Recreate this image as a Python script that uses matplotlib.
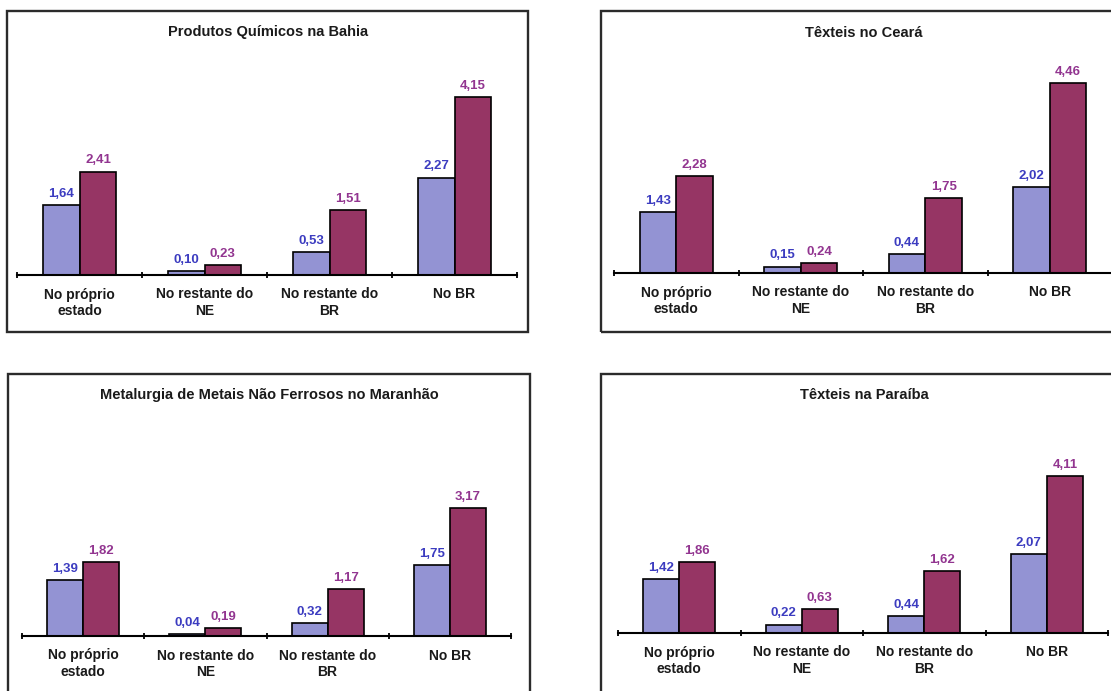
import matplotlib
matplotlib.use("Agg")
import matplotlib.pyplot as plt
from matplotlib.patches import Rectangle

plt.rcParams['font.family'] = ['Liberation Sans', 'DejaVu Sans']

categories = ["No próprio\nestado", "No restante do\nNE", "No restante do\nBR", "No BR"]

titles = [
    "Produtos Químicos na Bahia",
    "Têxteis no Ceará",
    "Metalurgia de Metais Não Ferrosos no Maranhão",
    "Têxteis na Paraíba",
]

series_a_bahia = [1.64, 0.10, 0.53, 2.27]
series_b_bahia = [2.41, 0.23, 1.51, 4.15]
series_a_ceara = [1.43, 0.15, 0.44, 2.02]
series_b_ceara = [2.28, 0.24, 1.75, 4.46]
series_a_maranhao = [1.39, 0.04, 0.32, 1.75]
series_b_maranhao = [1.82, 0.19, 1.17, 3.17]
series_a_paraiba = [1.42, 0.22, 0.44, 2.07]
series_b_paraiba = [1.86, 0.63, 1.62, 4.11]

W, H = 1111, 691
fig = plt.figure(figsize=(W / 100, H / 100), dpi=100)
fig.patch.set_facecolor('white')

# layout in pixels: (box l, t, r, b), (axes l, r, bottom, top), ymax, title (x, y)
panels = [
    ((7, 11, 528, 332), (17, 517, 275, 75), 4.66, (268, 32), series_a_bahia, series_b_bahia),
    ((601, 11, 1127, 332), (614, 1112, 273, 73), 4.69, (864, 33), series_a_ceara, series_b_ceara),
    ((8, 374, 530, 700), (22, 511, 636, 436), 4.95, (269, 395), series_a_maranhao, series_b_maranhao),
    ((601, 374, 1127, 700), (618, 1108, 633, 433), 5.24, (864, 395), series_a_paraiba, series_b_paraiba),
]

col_a = '#9393D3'
col_b = '#963564'
lab_a = '#3C3CC0'
lab_b = '#923590'
bw = 0.295

def fmt(v):
    return f"{v:.2f}".replace('.', ',')

for (box, ax_px, ymax, tpos, sa, sb), title in zip(panels, titles):
    bl, bt, br, bb = box
    fig.patches.append(Rectangle((bl / W, 1 - bb / H), (br - bl) / W, (bb - bt) / H,
                                 transform=fig.transFigure, fill=False,
                                 edgecolor='#2b2b2b', linewidth=1.7, zorder=0))
    l, r, b, t = ax_px
    ax = fig.add_axes([l / W, 1 - b / H, (r - l) / W, (b - t) / H])
    ax.set_facecolor('none')
    x = list(range(len(categories)))
    xa = [i - bw / 2 for i in x]
    xb = [i + bw / 2 for i in x]
    ax.bar(xa, sa, width=bw, color=col_a, edgecolor='black', linewidth=1.2)
    ax.bar(xb, sb, width=bw, color=col_b, edgecolor='black', linewidth=1.2)
    for xi, v in zip(xa, sa):
        ax.annotate(fmt(v), (xi, v), xytext=(0, 8), textcoords='offset points',
                    ha='center', va='center', color=lab_a, fontsize=9.5, fontweight='bold')
    for xi, v in zip(xb, sb):
        ax.annotate(fmt(v), (xi, v), xytext=(0, 8), textcoords='offset points',
                    ha='center', va='center', color=lab_b, fontsize=9.5, fontweight='bold')
    ax.set_xlim(-0.5, len(categories) - 0.5)
    ax.set_ylim(0, ymax)
    for s in ['top', 'right', 'left']:
        ax.spines[s].set_visible(False)
    ax.spines['bottom'].set_linewidth(1.5)
    ax.spines['bottom'].set_color('black')
    ax.set_yticks([])
    ax.set_xticks(x)
    ax.set_xticklabels(categories, fontsize=10, fontweight='bold', color='#1a1a1a',
                       linespacing=1.2)
    ax.tick_params(axis='x', which='major', length=0, pad=9)
    ax.set_xticks([i - 0.5 for i in range(len(categories) + 1)], minor=True)
    ax.tick_params(axis='x', which='minor', length=4, width=1.3, direction='inout', color='black')
    fig.text(tpos[0] / W, 1 - tpos[1] / H, title, ha='center', va='center',
             fontsize=10.5, fontweight='bold', color='#1a1a1a')

fig.savefig('out.png', dpi=100, facecolor='white')
